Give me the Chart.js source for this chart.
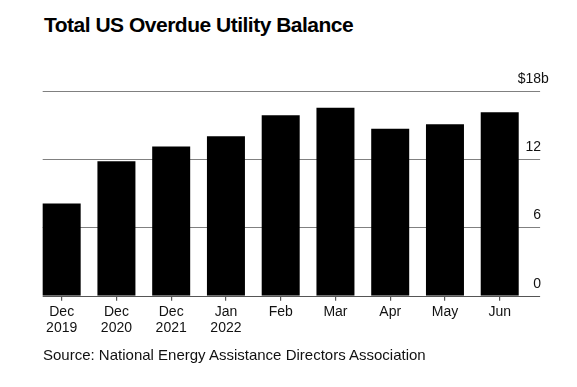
<!DOCTYPE html>
<html>
<head>
<meta charset="utf-8">
<script src="https://cdn.jsdelivr.net/npm/chart.js@4/dist/chart.umd.min.js"></script>
<style>
  html, body { margin: 0; padding: 0; background: #fff; }
  body { width: 577px; height: 387px; position: relative; overflow: hidden; font-family: "Liberation Sans", Arial, sans-serif; }
  #title { position: absolute; left: 44px; top: 14px; font-size: 21px; line-height: 21px; font-weight: bold; color: #000; letter-spacing: -0.5px; white-space: nowrap; }
  #source { position: absolute; left: 43px; top: 347px; font-size: 15px; line-height: 15px; color: #111; white-space: nowrap; }
  canvas { position: absolute; left: 0; top: 0; }
</style>
</head>
<body>
<div id="title">Total US Overdue Utility Balance</div>
<canvas id="c" width="577" height="387"></canvas>
<div id="source">Source: National Energy Assistance Directors Association</div>
<script>
const categories = [['Dec', '2019'], ['Dec', '2020'], ['Dec', '2021'], ['Jan', '2022'], 'Feb', 'Mar', 'Apr', 'May', 'Jun'];
const balances = [8.1, 11.8, 13.1, 14.0, 15.85, 16.5, 14.65, 15.05, 16.1];
const yTicks = [0, 6, 12, 18];
const yPrefix = '$';
const ySuffix = 'b';

const FONT = '"Liberation Sans", Arial, sans-serif';

const gridPlugin = {
  id: 'customGrid',
  beforeDatasetsDraw(chart) {
    const { ctx, chartArea, scales } = chart;
    const bar0 = chart.getDatasetMeta(0).data[0];
    const x0 = bar0.x - bar0.width / 2;
    const x1 = chartArea.right + 13;
    ctx.save();
    ctx.strokeStyle = '#808080';
    ctx.lineWidth = 1.2;
    yTicks.forEach(v => {
      if (v === 0) return;
      const y = Math.round(scales.y.getPixelForValue(v)) + 0.5;
      ctx.beginPath(); ctx.moveTo(x0, y); ctx.lineTo(x1, y); ctx.stroke();
    });
    ctx.restore();
  },
  afterDatasetsDraw(chart) {
    const { ctx, chartArea, scales } = chart;
    const bar0 = chart.getDatasetMeta(0).data[0];
    const x0 = bar0.x - bar0.width / 2;
    const x1 = chartArea.right + 13;
    ctx.save();
    ctx.strokeStyle = '#555';
    ctx.lineWidth = 1.2;
    const y = Math.round(scales.y.getPixelForValue(0)) + 0.5;
    ctx.beginPath(); ctx.moveTo(x0, y); ctx.lineTo(x1, y); ctx.stroke();
    // y labels
    ctx.font = '14px ' + FONT;
    ctx.fillStyle = '#111';
    ctx.textBaseline = 'alphabetic';
    const xr = x1 + 1;
    yTicks.forEach((v, i) => {
      const yy = scales.y.getPixelForValue(v) - 8;
      const s = String(v);
      ctx.textAlign = 'right';
      ctx.fillText(s, xr, yy);
      if (i === yTicks.length - 1) {
        const w = ctx.measureText(s).width;
        ctx.fillText(yPrefix, xr - w, yy);
        ctx.textAlign = 'left';
        ctx.fillText(ySuffix, xr, yy);
      }
    });
    ctx.restore();
  }
};

new Chart(document.getElementById('c'), {
  type: 'bar',
  data: {
    labels: categories,
    datasets: [{
      data: balances,
      backgroundColor: '#000',
      borderWidth: 0,
      barPercentage: 0.694,
      categoryPercentage: 1.0
    }]
  },
  options: {
    responsive: false,
    devicePixelRatio: 1,
    animation: false,
    layout: { padding: { left: 34.3, right: 49.9, top: 90.7, bottom: 41.3 } },
    plugins: { legend: { display: false }, tooltip: { enabled: false }, title: { display: false } },
    scales: {
      x: {
        type: 'category',
        offset: true,
        border: { display: false },
        grid: { display: true, drawOnChartArea: false, drawTicks: true, tickLength: 5, color: '#555', lineWidth: 1.2, offset: false },
        ticks: { color: '#111', font: { family: FONT, size: 14, lineHeight: 1.1 }, padding: 4, maxRotation: 0, autoSkip: false },
        afterFit(scale) { scale.height = 50; }
      },
      y: {
        display: false,
        min: 0,
        max: 18
      }
    }
  },
  plugins: [gridPlugin]
});
</script>
</body>
</html>
